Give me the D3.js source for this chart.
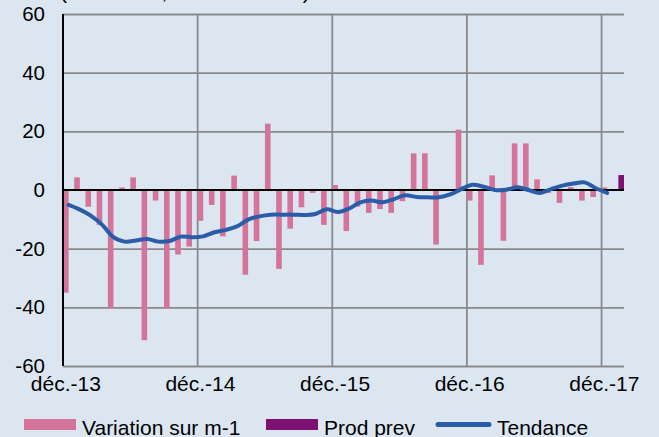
<html>
<head>
<script src="https://d3js.org/d3.v7.min.js"></script>
<style>
    body { margin: 0; background: #dce6f1; }
    text { font-family: "Liberation Sans", Arial, sans-serif; fill: #000; }
    .gridlines line { stroke: #8a8a8a; stroke-width: 1.8; }
    .gridlines .domain { stroke: none; }
</style>
</head>
<body>
<svg id="chart" width="659" height="437"></svg>
<script>
    // monthly categories, déc.-13 .. janv.-18
    const months = d3.timeMonth.range(new Date(2013, 11, 1), new Date(2018, 1, 1));

    // Variation sur m-1 (pink bars)
    const variation = [-35, 4.3, -5.7, -11.9, -40.3, 0.9, 4.3, -51.2, -3.6, -40.3, -22, -19.3,
                       -10.5, -5.1, -15.8, 4.9, -28.9, -17.4, 22.6, -26.9, -13.2, -5.9, -1.0, -11.9,
                       1.7, -14.0, -5.7, -7.8, -6.5, -7.8, -3.8, 12.5, 12.5, -18.6, 0, 20.6,
                       -3.6, -25.5, 5.0, -17.3, 15.9, 15.9, 3.6, -1.0, -4.4, 1.0, -3.6, -2.4, 0.9, null];

    // Prod prev (purple bar, last month only)
    const prodPrev = [null, null, null, null, null, null, null, null, null, null, null, null,
                      null, null, null, null, null, null, null, null, null, null, null, null,
                      null, null, null, null, null, null, null, null, null, null, null, null,
                      null, null, null, null, null, null, null, null, null, null, null, null, null, 5.1];

    // Tendance (smoothed blue line)
    const tendance = [-5.1, -6.7, -8.8, -11.9, -16.1, -17.6, -17.2, -16.7, -17.6, -17.4, -15.9, -16.1,
                      -15.8, -14.4, -13.6, -12.4, -10.1, -9.0, -8.4, -8.4, -8.4, -8.5, -8.2, -6.6,
                      -7.5, -6.3, -4.2, -3.6, -4.2, -3.1, -1.8, -2.4, -2.5, -2.5, -1.5, 0.3,
                      1.8, 1.1, 0, 0.1, 0.9, 0, -1.0, 0.3, 1.5, 2.2, 2.6, 0.6, -1.0];

    const yTicks = [-60, -40, -20, 0, 20, 40, 60];
    const series = ["Variation sur m-1", "Prod prev"];
    const colors = {"Variation sur m-1": "#d4749a", "Prod prev": "#7d1272", "Tendance": "#2a5ca8"};
    const frMonth = ["janv.", "févr.", "mars", "avr.", "mai", "juin", "juil.", "août", "sept.", "oct.", "nov.", "déc."];
    const fmtMonth = d => `${frMonth[d.getMonth()]}-${String(d.getFullYear() % 100).padStart(2, "0")}`;

    const svg = d3.select("svg#chart");
    const margin = {top: 14, right: 35, bottom: 71, left: 63};
    const width = +svg.attr("width");
    const height = +svg.attr("height");

    const x = d3.scaleBand().domain(months).range([margin.left, width - margin.right]);
    const xInner = d3.scaleBand().domain(series).range([0, x.bandwidth()]);
    const y = d3.scaleLinear().domain([-60, 60]).range([height - margin.bottom, margin.top]);

    // title line, cut off by the top of the picture
    svg.append("text").attr("x", 60).attr("y", -1.5)
       .style("font-size", "21px")
       .text("(en milliers, données CVS)");

    let grid = svg.append("g").attr("class", "gridlines");
    grid.append("g")
        .attr("transform", `translate(${margin.left},0)`)
        .call(d3.axisLeft(y).tickValues(yTicks.filter(v => v !== 0))
                .tickSize(-(width - margin.right - margin.left)).tickFormat(""));
    const decembers = months.filter(d => d.getMonth() === 11);
    grid.selectAll("line.vgrid").data(decembers.slice(1))
        .join("line").attr("class", "vgrid")
        .attr("x1", d => x(d)).attr("x2", d => x(d))
        .attr("y1", y(60)).attr("y2", y(-60));

    // bars
    let bars = svg.append("g");
    const barData = [];
    months.forEach((m, i) => {
        if (variation[i] !== null) barData.push({m: m, s: "Variation sur m-1", v: variation[i]});
        if (prodPrev[i] !== null) barData.push({m: m, s: "Prod prev", v: prodPrev[i]});
    });
    bars.selectAll("rect").data(barData)
        .join("rect")
        .attr("x", d => x(d.m) + xInner(d.s))
        .attr("width", xInner.bandwidth())
        .attr("y", d => y(Math.max(0, d.v)))
        .attr("height", d => Math.abs(y(d.v) - y(0)))
        .style("fill", d => colors[d.s]);

    // axis lines
    svg.append("line")
       .attr("x1", margin.left).attr("x2", width - margin.right)
       .attr("y1", y(0)).attr("y2", y(0))
       .style("stroke", "#000").style("stroke-width", 2);
    svg.append("line")
       .attr("x1", margin.left).attr("x2", margin.left)
       .attr("y1", y(60)).attr("y2", y(-60))
       .style("stroke", "#000").style("stroke-width", 2);

    // trend line
    const line = d3.line()
        .x((d, i) => x(months[i]) + x.bandwidth() / 2)
        .y(d => y(d))
        .curve(d3.curveCatmullRom.alpha(0));
    svg.append("path").datum(tendance)
       .attr("d", line)
       .style("fill", "none")
       .style("stroke", colors["Tendance"])
       .style("stroke-width", 4)
       .style("stroke-linecap", "round")
       .style("stroke-linejoin", "round");

    // y labels
    svg.append("g").selectAll("text").data(yTicks)
       .join("text")
       .attr("x", 45).attr("y", d => y(d) + 7)
       .style("font-size", "20.5px")
       .style("text-anchor", "end")
       .text(d => d);

    // x labels
    svg.append("g").selectAll("text").data(decembers)
       .join("text")
       .attr("x", d => x(d) + xInner.bandwidth() / 2)
       .attr("y", 391)
       .style("font-size", "21px")
       .style("text-anchor", "middle")
       .text(d => fmtMonth(d));

    // legend
    let legend = svg.append("g");
    legend.append("rect").attr("x", 24).attr("y", 419).attr("width", 52).attr("height", 11)
          .style("fill", colors["Variation sur m-1"]);
    legend.append("text").attr("x", 82).attr("y", 435).style("font-size", "21px").text("Variation sur m-1");
    legend.append("rect").attr("x", 266).attr("y", 419).attr("width", 52).attr("height", 11)
          .style("fill", colors["Prod prev"]);
    legend.append("text").attr("x", 324).attr("y", 435).style("font-size", "21px").text("Prod prev");
    legend.append("line").attr("x1", 438).attr("x2", 489).attr("y1", 424.5).attr("y2", 424.5)
          .style("stroke", colors["Tendance"]).style("stroke-width", 5).style("stroke-linecap", "round");
    legend.append("text").attr("x", 497).attr("y", 435).style("font-size", "21px").text("Tendance");
</script>
</body>
</html>
